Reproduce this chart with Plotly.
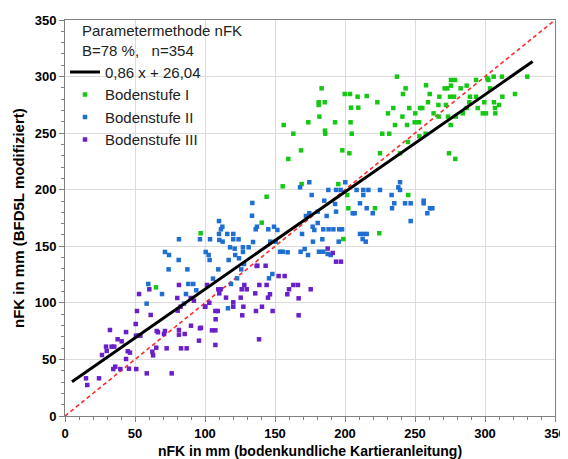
import plotly.graph_objects as go

# Bodenstufe I (green)
stufe1_x = [183.3, 199.8, 203.6, 209.0, 215.5, 181.2, 181.2, 185.5, 204.3, 209.5,
            181.7, 173.8, 192.9, 204.0, 156.2, 163.1, 185.7, 185.9, 204.8, 168.6,
            198.1, 203.1, 159.5, 155.5, 169.0, 195.2, 144.0, 201.6,
            237.1, 257.9, 275.7, 278.6, 275.7, 271.2, 273.1, 282.6, 286.9, 293.6,
            301.6, 302.4, 306.2, 312.1, 330.2, 243.3, 241.4, 260.5, 267.4, 275.0,
            277.9, 289.3, 293.6, 303.6, 312.4, 321.4, 223.1, 259.3, 288.8, 299.5,
            306.4, 266.7, 272.1, 234.5, 245.9, 253.6, 255.2, 286.9, 294.8, 307.1,
            310.0, 230.7, 250.2, 263.3, 284.1, 298.4, 300.7, 307.4, 241.0, 266.9,
            273.6, 279.1, 249.8, 252.9, 235.7, 244.3, 275.5, 226.6, 231.6, 257.6,
            253.1, 245.0, 225.0, 239.3, 274.3, 278.8, 245.2,
            221.4, 202.4, 224.5, 198.8, 140.5, 96.9, 65.0]
stufe1_y = [289.6, 284.6, 284.6, 282.2, 282.8, 277.3, 274.9, 277.3, 272.5, 272.5,
            264.6, 259.6, 259.6, 259.6, 257.2, 249.5, 252.2, 249.5, 249.5, 234.8,
            234.8, 232.2, 227.2, 203.0, 205.0, 205.0, 193.8, 195.3,
            299.9, 292.3, 297.0, 297.0, 292.0, 289.6, 289.6, 289.6, 292.0, 297.0,
            298.4, 297.0, 299.9, 299.9, 299.9, 289.6, 284.6, 284.6, 282.2, 282.2,
            282.2, 282.2, 282.2, 289.6, 282.2, 284.6, 277.3, 277.3, 277.3, 277.3,
            277.3, 274.9, 274.9, 272.2, 272.2, 272.2, 272.2, 272.2, 272.2, 272.2,
            274.9, 267.5, 267.5, 267.5, 267.5, 267.5, 267.5, 267.5, 264.6, 264.6,
            264.6, 264.6, 259.6, 259.6, 257.2, 257.2, 257.2, 249.5, 249.5, 249.5,
            247.2, 242.2, 232.2, 232.2, 232.2, 227.2, 195.3,
            183.6, 183.6, 161.5, 156.4, 170.9, 161.5, 113.7]

# Bodenstufe II (blue)
stufe2_x = [133.8, 133.6, 110.0, 112.4, 111.4, 110.0, 115.9, 120.2, 110.2, 112.6,
            120.2, 124.0, 103.6, 96.4, 81.4, 136.2, 137.1, 145.2, 149.3, 151.7,
            134.3, 117.9, 121.2, 127.1, 131.2, 127.1, 146.6, 150.5, 71.4, 74.3,
            100.5, 102.6, 103.3, 81.2, 121.6, 124.3, 116.9, 153.6, 155.5, 159.0,
            74.0, 87.4, 109.5, 105.7, 148.1, 145.7, 59.5, 88.1, 91.6, 93.8,
            69.3, 118.6, 122.9, 125.9, 86.4,
            174.5, 167.9, 176.2, 188.1, 193.6, 185.2, 208.3, 213.1, 216.7, 225.0,
            239.3, 238.1, 239.3, 233.3, 213.1, 210.7, 235.2, 242.9, 246.9, 215.5,
            205.5, 206.9, 219.8, 233.6, 193.6, 186.9, 172.1, 174.5, 180.5, 246.9,
            176.9, 178.1, 184.5, 188.3, 191.7, 195.9, 197.9, 210.7, 213.1, 215.5,
            212.6, 214.8, 169.3, 183.8, 177.1, 195.5, 168.3, 171.2, 173.6, 181.4,
            184.5, 187.6, 189.8,
            180.5, 192.9, 200.2, 196.9, 256.2, 256.2, 260.7, 262.4, 258.8,
            58.3, 85.0, 116.4, 127.9]
stufe2_y = [188.3, 177.0, 172.3, 167.3, 165.0, 160.9, 160.9, 160.9, 155.6, 154.1,
            156.2, 156.2, 156.2, 156.2, 156.2, 165.0, 167.3, 165.0, 167.3, 164.4,
            153.8, 149.1, 147.9, 149.1, 149.1, 145.0, 154.1, 154.1, 145.0, 142.3,
            145.0, 142.3, 137.9, 137.9, 142.3, 139.4, 137.9, 145.2, 145.2, 144.7,
            129.6, 129.6, 129.6, 121.4, 125.5, 121.7, 116.7, 116.7, 116.7, 111.1,
            107.8, 116.7, 121.7, 129.6, 107.8,
            206.6, 202.1, 195.3, 199.8, 199.8, 190.3, 199.8, 199.8, 199.8, 199.8,
            206.6, 202.1, 199.8, 195.3, 195.3, 188.0, 188.0, 188.0, 188.0, 183.6,
            179.2, 179.2, 179.2, 183.6, 180.6, 176.8, 176.8, 179.2, 180.6, 172.3,
            167.3, 164.4, 165.0, 165.0, 165.0, 165.0, 165.0, 160.9, 160.9, 160.9,
            156.4, 154.1, 160.9, 156.2, 154.1, 154.1, 145.2, 147.6, 142.3, 145.2,
            145.2, 143.2, 142.3,
            170.6, 187.4, 206.6, 199.8, 190.3, 188.0, 183.6, 183.6, 179.2,
            99.3, 99.3, 95.2, 134.3]

# Bodenstufe III (purple)
stufe3_x = [52.9, 60.2, 81.4, 101.4, 80.2, 89.8, 82.6, 80.5, 92.1, 100.2,
            51.4, 61.2, 50.5, 32.1, 43.6, 50.7, 52.6, 53.8, 65.5, 66.4,
            71.4, 70.7, 81.4, 81.4, 85.5, 90.0, 96.4, 95.7, 37.6, 40.5,
            29.3, 33.3, 35.2, 44.8, 46.4, 29.8, 26.4, 65.2, 72.6, 62.4,
            62.9, 82.9, 86.9, 43.6, 34.5, 35.9, 39.5, 45.7, 50.9, 58.4,
            76.2, 15.0, 24.3, 15.9,
            109.5, 111.2, 110.2, 103.1, 100.0, 115.0, 120.2, 120.2, 125.5, 107.4,
            109.1, 107.6, 105.0, 107.4, 107.4, 97.1, 127.4, 126.6, 136.4, 140.7,
            148.3, 166.9, 138.6, 128.1, 126.2, 129.8, 135.9, 138.8, 144.0, 146.4,
            145.0, 137.4, 143.3, 152.6, 156.9, 160.0, 158.8, 163.1, 166.4, 175.5,
            166.9,
            187.6, 191.2, 193.6, 197.1, 136.9]
stufe3_y = [107.8, 112.0, 115.8, 115.8, 104.3, 104.3, 96.6, 93.1, 101.9, 96.6,
            92.8, 89.3, 81.3, 76.0, 74.2, 71.0, 71.0, 71.0, 75.1, 74.0,
            75.1, 72.5, 76.0, 71.9, 72.5, 79.8, 77.5, 66.6, 67.8, 66.0,
            61.3, 61.3, 61.3, 57.2, 56.0, 57.5, 53.9, 60.4, 59.8, 56.8,
            53.6, 59.8, 59.8, 50.4, 41.5, 43.6, 41.5, 41.8, 41.5, 37.7,
            37.7, 33.3, 33.3, 27.4,
            112.0, 112.0, 108.4, 100.1, 96.6, 104.6, 100.5, 96.6, 104.6, 92.8,
            92.8, 85.5, 75.7, 75.7, 62.8, 78.0, 96.6, 89.0, 92.8, 96.6,
            92.8, 89.0, 67.8, 115.8, 112.0, 112.0, 108.4, 115.8, 115.8, 107.6,
            104.6, 132.8, 132.8, 123.7, 123.7, 112.0, 107.6, 115.8, 115.8, 112.0,
            104.0,
            148.0, 144.1, 136.4, 136.4, 132.6]

# Regression 0,86 x + 26,04 and 1:1 line
reg_slope = 0.86
reg_icpt = 26.04
reg_x = [5, 334]
reg_y = [reg_slope * v + reg_icpt for v in reg_x]
diag = [0, 350]

legend_title = ["Parametermethode nFK", "B=78 %,   n=354"]

font = "Arial, Liberation Sans, sans-serif"

fig = go.Figure()

fig.add_trace(go.Scatter(x=diag, y=diag, mode="lines", showlegend=False,
                         line=dict(color="#ff2a2a", width=1.6, dash="4px,3px")))

marker_style = dict(symbol="square", size=4.5)
fig.add_trace(go.Scatter(x=stufe1_x, y=stufe1_y, mode="markers", name="Bodenstufe I",
                         marker=dict(color="#14c814", **marker_style), legendrank=2))
fig.add_trace(go.Scatter(x=stufe2_x, y=stufe2_y, mode="markers", name="Bodenstufe II",
                         marker=dict(color="#1f6fd2", **marker_style), legendrank=3))
fig.add_trace(go.Scatter(x=stufe3_x, y=stufe3_y, mode="markers", name="Bodenstufe III",
                         marker=dict(color="#6a20c8", **marker_style), legendrank=4))

fig.add_trace(go.Scatter(x=reg_x, y=reg_y, mode="lines", name="0,86 x + 26,04",
                         line=dict(color="black", width=3), legendrank=1))

axis_common = dict(
    range=[0, 350], dtick=50, showgrid=True, gridcolor="#dcdcdc", gridwidth=1,
    zeroline=False, showline=True, linecolor="#808080", linewidth=1, mirror=True,
    ticks="outside", ticklen=5, tickcolor="#808080", automargin=False,
    minor=dict(dtick=10, ticks="outside", ticklen=3, tickcolor="#808080", showgrid=False),
    tickfont=dict(family=font, size=13, color="black", weight="bold"),
)

fig.update_xaxes(**axis_common,
                 title=dict(text="<b>nFK in mm (bodenkundliche Kartieranleitung)</b>",
                            font=dict(family=font, size=14, color="black"), standoff=6))
fig.update_yaxes(**axis_common)

# y axis title placed by hand so it sits close to the left edge
fig.add_annotation(text="<b>nFK in mm (BFD5L modifiziert)</b>", xref="paper", yref="paper",
                   x=-0.096, y=0.5, xanchor="center", yanchor="middle", textangle=-90,
                   showarrow=False, font=dict(family=font, size=15, color="black"))

# legend header lines as plain text above the legend entries
for i, line in enumerate(legend_title):
    fig.add_annotation(text=line, xref="paper", yref="paper", x=0.03, y=0.973 - i * 0.051,
                       xanchor="left", yanchor="middle", showarrow=False,
                       font=dict(family=font, size=15, color="#222222"))

fig.update_layout(
    width=560, height=451,
    paper_bgcolor="white", plot_bgcolor="white",
    margin=dict(l=57, r=13, t=12, b=43),
    font=dict(family=font, size=13, color="black"),
    legend=dict(
        x=0.0, y=0.91, xanchor="left", yanchor="top",
        bgcolor="rgba(0,0,0,0)", borderwidth=0,
        font=dict(family=font, size=15, color="#222222"),
        itemwidth=30, tracegroupgap=0,
    ),
)

fig.write_html("out.html")
